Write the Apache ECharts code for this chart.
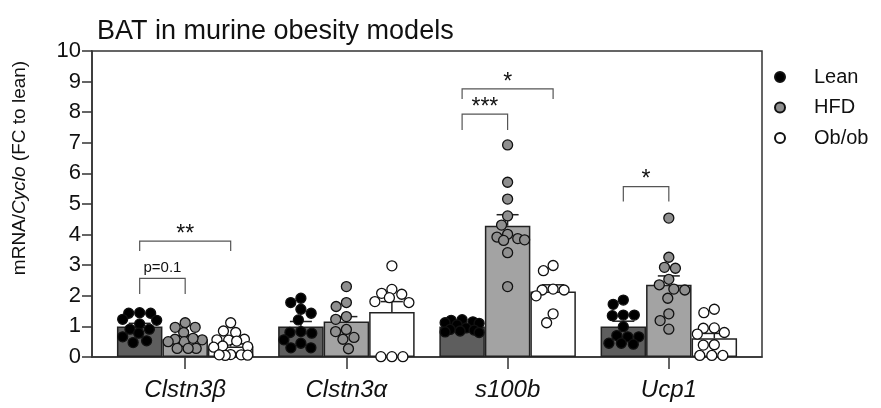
<!DOCTYPE html>
<html><head><meta charset="utf-8">
<script src="https://cdn.jsdelivr.net/npm/echarts@6/dist/echarts.min.js"></script>
<style>html,body{margin:0;padding:0;background:#fff}#c{width:881px;height:408px}</style>
</head><body><div id="c"></div>
<script>
// ---------- data ----------
const genes = ['Clstn3β', 'Clstn3α', 's100b', 'Ucp1'];
const groupNames = ['Lean', 'HFD', 'Ob/ob'];
const yTicks = [0, 1, 2, 3, 4, 5, 6, 7, 8, 9, 10];

const meanLean = [1.0, 1.0, 1.0, 1.0];
const meanHFD = [0.58, 1.16, 4.29, 2.36];
const meanOb = [0.34, 1.47, 2.14, 0.61];

const semLean = [0.10, 0.16, 0.04, 0.17];
const semHFD = [0.10, 0.16, 0.36, 0.29];
const semOb = [0.08, 0.34, 0.22, 0.16];

const ptsLean = [
  [1.43, 1.45, 1.43, 1.23, 1.20, 1.08, 0.91, 0.91, 0.78, 0.53, 0.66, 0.47],
  [1.92, 1.78, 1.56, 1.43, 1.21, 0.83, 0.80, 0.78, 0.56, 0.45, 0.30, 0.30],
  [1.20, 1.22, 1.15, 1.10, 1.12, 1.05, 0.95, 0.90, 0.88, 0.82, 0.85, 0.80],
  [1.86, 1.72, 1.35, 1.37, 1.37, 0.99, 0.66, 0.66, 0.70, 0.45, 0.45, 0.42]
];
const ptsHFD = [
  [1.12, 0.97, 0.97, 0.80, 0.50, 0.56, 0.58, 0.61, 0.50, 0.28, 0.28, 0.28],
  [2.30, 1.78, 1.65, 1.23, 1.32, 0.83, 0.64, 0.90, 0.58, 0.27],
  [6.93, 5.71, 5.16, 4.61, 4.31, 4.01, 3.87, 3.92, 3.83, 3.81, 3.41, 2.30],
  [4.54, 3.26, 2.90, 2.93, 2.54, 2.19, 2.36, 2.22, 1.92, 1.41, 1.19, 0.91]
];
const ptsOb = [
  [1.12, 0.85, 0.80, 0.58, 0.56, 0.55, 0.52, 0.36, 0.34, 0.32, 0.08, 0.07, 0.06, 0.05, 0.07],
  [2.98, 2.08, 2.21, 2.05, 1.81, 1.78, 1.94, 0.01, 0.01, 0.01],
  [2.82, 2.99, 2.19, 2.00, 2.19, 2.22, 1.41, 1.12],
  [1.56, 1.45, 0.94, 0.95, 0.80, 0.75, 0.39, 0.40, 0.05, 0.05, 0.05]
];

// significance brackets
const brGene = [0, 0, 2, 2, 3];
const brFrom = [0, 0, 0, 0, 0];
const brTo = [1, 2, 1, 2, 1];
const brTop = [2.57, 3.79, 7.94, 8.76, 5.57];
const brBottom = [2.06, 3.46, 7.42, 8.43, 5.08];
const brText = ['p=0.1', '**', '***', '*', '*'];

// ---------- layout ----------
const W = 881, H = 408;
const GRID = { left: 92, right: 119, top: 51, bottom: 51 };
const X_MIN = -0.578, X_MAX = 3.578, Y_MAX = 10;
const pxPerX = (W - GRID.left - GRID.right) / (X_MAX - X_MIN);
const pxPerY = (H - GRID.top - GRID.bottom) / Y_MAX;
const BAR_PX = 45.5;
const barStep = BAR_PX / pxPerX;
const center = (g, c) => g + (c - 1) * barStep;

const FONT = 'Liberation Sans, Arial, Helvetica, sans-serif';
const barFill = ['#5e5e5e', '#a3a3a3', '#ffffff'];
const dotFill = ['#000000', '#8f8f8f', '#ffffff'];

// beeswarm offsets (pixel-based collision avoidance)
function swarm(values, D, maxOff) {
  const placed = [];
  const order = values.map((v, i) => i).sort((a, b) => values[b] - values[a]);
  const out = new Array(values.length);
  order.forEach(i => {
    const y = values[i] * pxPerY;
    const near = placed.filter(p => Math.abs(p.y - y) < D);
    const cands = [0];
    near.forEach(p => {
      const dx = Math.sqrt(D * D - (p.y - y) ** 2);
      cands.push(p.x + dx, p.x - dx);
    });
    const ok = cands.filter(x => Math.abs(x) <= maxOff + 1e-6 &&
      near.every(p => (p.x - x) ** 2 + (p.y - y) ** 2 >= D * D - 1e-6));
    let x;
    if (ok.length) {
      ok.sort((a, b) => Math.abs(a) - Math.abs(b) || a - b);
      x = ok[0];
    } else {
      let best = 0, bestD = -1;
      for (let t = -maxOff; t <= maxOff + 1e-6; t += 0.5) {
        const d = near.reduce((m, p) => Math.min(m, Math.hypot(p.x - t, p.y - y)), Infinity);
        if (d > bestD) { bestD = d; best = t; }
      }
      x = best;
    }
    placed.push({ x, y });
    out[i] = x / pxPerX;
  });
  return out;
}

const means = [meanLean, meanHFD, meanOb];
const sems = [semLean, semHFD, semOb];
const pts = [ptsLean, ptsHFD, ptsOb];

const barData = [];
const errData = [];
for (let g = 0; g < genes.length; g++) {
  for (let c = 0; c < 3; c++) {
    barData.push({ value: [center(g, c), means[c][g]], itemStyle: { color: barFill[c] } });
    errData.push([center(g, c), means[c][g], means[c][g] + sems[c][g]]);
  }
}

const scatterSeries = groupNames.map((name, c) => {
  const data = [];
  for (let g = 0; g < genes.length; g++) {
    const offs = swarm(pts[c][g], 11, 17);
    pts[c][g].forEach((v, i) => data.push([center(g, c) + offs[i], v]));
  }
  return {
    name, type: 'scatter', data, symbol: 'circle', symbolSize: 10, z: 5, clip: false,
    itemStyle: { color: dotFill[c], borderColor: '#111', borderWidth: 1.3, opacity: 1 },
    emphasis: { disabled: true }
  };
});

const brData = brGene.map((g, i) => [center(g, brFrom[i]), center(g, brTo[i]), brTop[i], brBottom[i]]);

const chart = echarts.init(document.getElementById('c'), null, { renderer: 'canvas' });
chart.setOption({
  animation: false,
  backgroundColor: '#fff',
  textStyle: { fontFamily: FONT },
  title: {
    text: 'BAT in murine obesity models', left: 92, top: 13,
    textStyle: { fontSize: 27, fontWeight: 'normal', color: '#111', fontFamily: FONT }
  },
  legend: {
    orient: 'vertical', left: 769, top: 62, itemWidth: 58, itemHeight: 10, itemGap: 10.5,
    icon: 'circle', selectedMode: false,
    textStyle: { fontSize: 20, color: '#111', fontFamily: FONT, width: 30, overflow: 'none' },
    data: groupNames
  },
  grid: {
    left: GRID.left, right: GRID.right, top: GRID.top, bottom: GRID.bottom,
    show: true, borderColor: '#333', borderWidth: 1.5, containLabel: false
  },
  xAxis: {
    type: 'value', min: X_MIN, max: X_MAX,
    axisLine: { show: true, onZero: false, lineStyle: { color: '#333', width: 1.5 } },
    axisTick: { show: true, customValues: [0, 1, 2, 3], length: 12, lineStyle: { color: '#333', width: 1.5 } },
    axisLabel: {
      customValues: [0, 1, 2, 3], formatter: v => genes[Math.round(v)],
      fontSize: 24, fontStyle: 'italic', color: '#111', margin: 21, fontFamily: FONT
    },
    splitLine: { show: false }
  },
  yAxis: {
    type: 'value', min: 0, max: 10, interval: 1,
    axisLine: { show: true, onZero: false, lineStyle: { color: '#333', width: 1.5 } },
    axisTick: { show: true, length: 10, lineStyle: { color: '#333', width: 1.5 } },
    axisLabel: { fontSize: 22, color: '#111', margin: 11, fontFamily: FONT, formatter: v => String(v) },
    splitLine: { show: false }
  },
  graphic: [{
    type: 'text', x: 20, y: 168, rotation: Math.PI / 2,
    style: {
      text: '{a|mRNA/}{b|Cyclo}{a| (FC to lean)}',
      align: 'center', verticalAlign: 'middle',
      rich: {
        a: { fontSize: 19, fontFamily: FONT, fill: '#111' },
        b: { fontSize: 19, fontFamily: FONT, fontStyle: 'italic', fill: '#111' }
      }
    }
  }],
  series: [
    {
      name: 'bars', type: 'bar', data: barData, barWidth: BAR_PX, z: 2,
      itemStyle: { borderColor: '#222', borderWidth: 1.5 },
      emphasis: { disabled: true }
    },
    {
      name: 'sem', type: 'custom', z: 3,
      data: errData,
      renderItem: (params, api) => {
        const p0 = api.coord([api.value(0), api.value(1)]);
        const p1 = api.coord([api.value(0), api.value(2)]);
        const half = 11;
        return {
          type: 'group', children: [
            { type: 'line', shape: { x1: p0[0], y1: p0[1], x2: p1[0], y2: p1[1] }, style: { stroke: '#222', lineWidth: 1.5 } },
            { type: 'line', shape: { x1: p1[0] - half, y1: p1[1], x2: p1[0] + half, y2: p1[1] }, style: { stroke: '#222', lineWidth: 1.5 } }
          ]
        };
      }
    },
    {
      name: 'brackets', type: 'custom', z: 6,
      data: brData,
      renderItem: (params, api) => {
        const a = api.coord([api.value(0), api.value(2)]);
        const b = api.coord([api.value(1), api.value(2)]);
        const a0 = api.coord([api.value(0), api.value(3)]);
        const txt = brText[params.dataIndex];
        const isStar = txt.indexOf('*') === 0;
        return {
          type: 'group', children: [
            { type: 'polyline', shape: { points: [[a[0], a0[1]], a, b, [b[0], a0[1]]] }, style: { stroke: '#555', lineWidth: 1.2, fill: null } },
            {
              type: 'text', x: (a[0] + b[0]) / 2, y: isStar ? a[1] + 5 : a[1] - 3,
              style: {
                text: txt, align: 'center', verticalAlign: 'bottom',
                fontSize: isStar ? 23 : 15, fontFamily: FONT, fill: '#111'
              }
            }
          ]
        };
      }
    }
  ].concat(scatterSeries)
});
</script>
</body></html>
